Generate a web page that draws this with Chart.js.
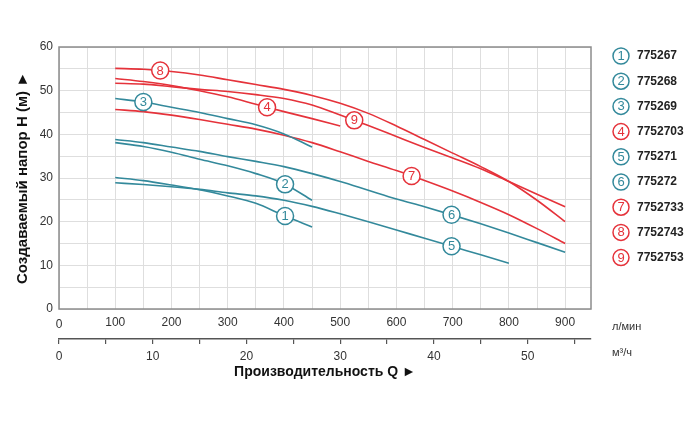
<!DOCTYPE html>
<html>
<head>
<meta charset="utf-8">
<script src="https://cdn.jsdelivr.net/npm/chart.js@4.4.0/dist/chart.umd.min.js"></script>
<style>
  html, body { margin: 0; padding: 0; background: #fff; }
</style>
</head>
<body>
<canvas id="pumpChart" width="700" height="428"></canvas>
<script>
// Data (flow in l/min, head in m)
const flowLmin = [100, 150, 200, 250, 300, 350, 400, 450, 500, 550, 600, 650, 700, 750, 800, 850, 900];

const head1 = [30.1, 29.4, 28.4, 27.3, 25.9, 24.2, 21.4, 18.8];
const head2 = [38.1, 37.2, 35.9, 34.3, 32.8, 31.0, 28.7, 24.9];
const head3 = [48.2, 47.4, 46.2, 45.0, 43.6, 42.2, 40.1, 37.1];
const head4 = [52.8, 52.1, 51.2, 50.0, 48.6, 46.9, 45.2, 43.6, 41.9];
const head5 = [28.9, 28.5, 28.0, 27.4, 26.6, 25.9, 24.9, 23.5, 21.8, 20.0, 18.1, 16.2, 14.3, 12.4, 10.5];
const head6 = [38.8, 38.1, 37.1, 36.1, 34.9, 33.8, 32.6, 31.0, 29.2, 27.2, 25.2, 23.4, 21.5, 19.5, 17.4, 15.2, 13.0];
const head7 = [45.7, 45.2, 44.4, 43.4, 42.3, 41.2, 39.8, 38.1, 36.0, 33.8, 31.7, 29.4, 27.0, 24.4, 21.6, 18.4, 15.0];
const head8 = [55.1, 54.9, 54.4, 53.6, 52.5, 51.4, 50.3, 48.9, 47.1, 44.8, 41.9, 38.8, 35.7, 32.6, 29.2, 24.9, 20.0];
const head9 = [51.7, 51.5, 50.9, 50.3, 49.8, 49.1, 48.2, 46.7, 44.4, 42.0, 39.5, 37.0, 34.6, 32.1, 29.2, 26.3, 23.4];

const pumpNumbers = ['1', '2', '3', '4', '5', '6', '7', '8', '9'];
const pumpCodes = ['775267', '775268', '775269', '7752703', '775271', '775272', '7752733', '7752743', '7752753'];
// flow where the numbered marker sits on each curve
const markerFlow = [402, 402, 150, 370, 698, 698, 627, 180, 525];

const yTicks = [0, 10, 20, 30, 40, 50, 60];
const xTicksLmin = [100, 200, 300, 400, 500, 600, 700, 800, 900];
const xTicksM3h = [0, 10, 20, 30, 40, 50];

const X_MAX = 946;          // right edge of the plot in l/min
const LMIN_PER_M3H = 1000 / 60;

const TEAL = '#33899b';
const RED = '#e5323a';
const pumpColors = [TEAL, TEAL, TEAL, RED, TEAL, TEAL, RED, RED, RED];
const FONT = "'Liberation Sans', Arial, sans-serif";

const allHeads = [head1, head2, head3, head4, head5, head6, head7, head8, head9];

const datasets = allHeads.map((h, i) => ({
    label: pumpCodes[i],
    data: h.map((v, j) => ({ x: flowLmin[j], y: v })),
    borderColor: pumpColors[i],
    borderWidth: 1.6,
    pointRadius: 0,
    tension: 0.4,
    cubicInterpolationMode: 'monotone',
    fill: false,
    xAxisID: 'x',
    yAxisID: 'y'
}));

// head at a given flow, linear between read points
function headAt(h, q) {
    for (let j = 0; j < h.length - 1; j++) {
        if (q >= flowLmin[j] && q <= flowLmin[j + 1]) {
            const t = (q - flowLmin[j]) / (flowLmin[j + 1] - flowLmin[j]);
            return h[j] + t * (h[j + 1] - h[j]);
        }
    }
    return h[h.length - 1];
}

function numberCircle(ctx, x, y, r, color, text) {
    ctx.beginPath();
    ctx.arc(x, y, r, 0, Math.PI * 2);
    ctx.fillStyle = '#fff';
    ctx.fill();
    ctx.lineWidth = 1.5;
    ctx.strokeStyle = color;
    ctx.stroke();
    ctx.fillStyle = color;
    ctx.font = '13px ' + FONT;
    ctx.textAlign = 'center';
    ctx.textBaseline = 'middle';
    ctx.fillText(text, x, y + 0.5);
}

const extrasPlugin = {
    id: 'extras',
    beforeDatasetsDraw(chart) {
        const { ctx, chartArea: a } = chart;
        ctx.save();
        ctx.strokeStyle = '#8c8c8c';
        ctx.lineWidth = 1.5;
        ctx.strokeRect(a.left, a.top, a.right - a.left, a.bottom - a.top);
        ctx.restore();
    },
    afterDatasetsDraw(chart) {
        const { ctx, chartArea: a, scales } = chart;
        ctx.save();
        // numbered markers on the curves
        allHeads.forEach((h, i) => {
            const px = scales.x.getPixelForValue(markerFlow[i]);
            const py = scales.y.getPixelForValue(headAt(h, markerFlow[i]));
            numberCircle(ctx, px, py, 8.5, pumpColors[i], pumpNumbers[i]);
        });

        // "0" of the l/min axis sits a bit lower
        ctx.fillStyle = '#333';
        ctx.font = '12px ' + FONT;
        ctx.textAlign = 'center';
        ctx.textBaseline = 'middle';
        ctx.fillText('0', scales.x.getPixelForValue(0), a.bottom + 16);

        // unit labels
        ctx.textAlign = 'left';
        ctx.font = '11px ' + FONT;
        ctx.fillText('л/мин', a.right + 21, a.bottom + 18);
        ctx.fillText('м³/ч', a.right + 21, a.bottom + 44);

        // legend
        pumpCodes.forEach((code, i) => {
            const ly = a.top + 9 + i * 25.2;
            numberCircle(ctx, a.right + 30, ly, 8, pumpColors[i], pumpNumbers[i]);
            ctx.fillStyle = '#222';
            ctx.font = 'bold 12px ' + FONT;
            ctx.textAlign = 'left';
            ctx.textBaseline = 'middle';
            ctx.fillText(code, a.right + 46, ly);
        });
        ctx.restore();
    }
};

new Chart(document.getElementById('pumpChart').getContext('2d'), {
    type: 'line',
    data: { datasets: datasets },
    plugins: [extrasPlugin],
    options: {
        responsive: false,
        animation: false,
        devicePixelRatio: 1,
        layout: { padding: { top: 47, right: 109, bottom: 39, left: 0 } },
        plugins: { legend: { display: false }, tooltip: { enabled: false } },
        scales: {
            x: {
                type: 'linear',
                position: 'bottom',
                min: 0,
                max: X_MAX,
                ticks: {
                    stepSize: 50,
                    includeBounds: false,
                    autoSkip: false,
                    maxRotation: 0,
                    padding: 6,
                    color: '#333',
                    font: { family: FONT, size: 12 },
                    callback: v => xTicksLmin.includes(v) ? String(v) : ''
                },
                grid: { color: '#dedede', lineWidth: 1, drawTicks: false },
                border: { display: false },
                afterFit: s => { s.height = 30; }
            },
            x2: {
                type: 'linear',
                position: 'bottom',
                min: 0,
                max: X_MAX / LMIN_PER_M3H,
                ticks: {
                    stepSize: 5,
                    includeBounds: false,
                    autoSkip: false,
                    maxRotation: 0,
                    padding: 5,
                    color: '#333',
                    font: { family: FONT, size: 12 },
                    callback: v => xTicksM3h.includes(v) ? String(v) : ''
                },
                grid: { drawOnChartArea: false, drawTicks: true, tickLength: 5, color: '#555', lineWidth: 1.2 },
                border: { display: true, color: '#555', width: 1.5 },
                title: {
                    display: true,
                    text: 'Производительность Q ►',
                    color: '#111',
                    font: { family: FONT, size: 14, weight: 'bold' },
                    padding: { top: 2, bottom: 8 }
                },
                afterFit: s => { s.height = 50; }
            },
            y: {
                type: 'linear',
                min: 0,
                max: 60,
                ticks: {
                    stepSize: 5,
                    includeBounds: false,
                    padding: 6,
                    color: '#333',
                    font: { family: FONT, size: 12 },
                    callback: v => yTicks.includes(v) ? String(v) : ''
                },
                grid: { color: '#dedede', lineWidth: 1, drawTicks: false },
                border: { display: false },
                title: {
                    display: true,
                    text: 'Создаваемый напор H (м) ►',
                    color: '#111',
                    font: { family: FONT, size: 15, weight: 'bold' },
                    padding: { top: 14, bottom: 0 }
                },
                afterFit: s => { s.width = 59; }
            }
        }
    }
});
</script>
</body>
</html>
